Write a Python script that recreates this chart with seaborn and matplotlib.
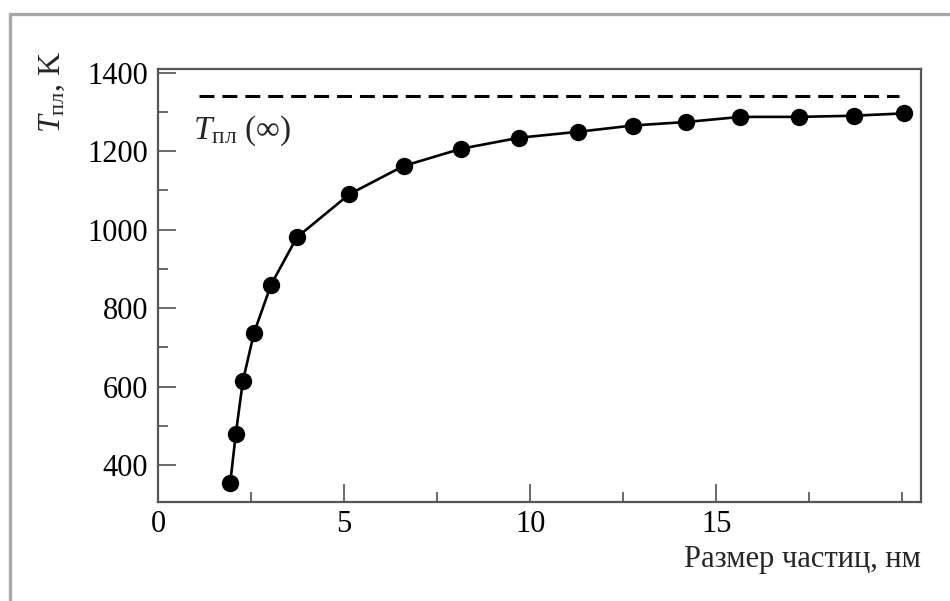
import matplotlib
matplotlib.use("Agg")
import matplotlib.pyplot as plt
from matplotlib.ticker import MultipleLocator
from matplotlib.lines import Line2D
import seaborn as sns
import pandas as pd

# --- data ---
size_nm = [1.94, 2.09, 2.28, 2.58, 3.04, 3.73, 5.14, 6.60, 8.15, 9.71,
           11.28, 12.75, 14.19, 15.65, 17.22, 18.69, 20.05]
t_melt = [354, 479, 614, 737, 860, 980, 1090, 1162, 1206, 1234,
          1249, 1265, 1274, 1287, 1287, 1290, 1296]
t_inf = 1340
t_inf_x = [1.1, 19.9]
x_ticks = [0, 5, 10, 15]
y_ticks = [400, 600, 800, 1000, 1200, 1400]

df = pd.DataFrame({"size": size_nm, "T": t_melt})
df_inf = pd.DataFrame({"size": t_inf_x, "T": [t_inf, t_inf]})

sns.set_theme(style="ticks")
plt.rcParams["font.family"] = ["Liberation Serif", "DejaVu Serif"]
plt.rcParams["mathtext.fontset"] = "custom"
plt.rcParams["mathtext.rm"] = "Liberation Serif"
plt.rcParams["mathtext.it"] = "Liberation Serif:italic"

fig = plt.figure(figsize=(9.5, 6.01), dpi=100)
fig.patch.set_facecolor("white")
ax = fig.add_axes([158/950, 1-502/601, (921-158)/950, (502-69)/601])

sns.lineplot(data=df, x="size", y="T", ax=ax, color="black", linewidth=1.9,
             marker="o", markersize=12.5, markeredgewidth=0, sort=True)
sns.lineplot(data=df_inf, x="size", y="T", ax=ax, color="black", linewidth=2.2,
             dashes=False, linestyle=(0, (4.9, 2.6)))

ax.set_xlim(0, 20.5)
ax.set_ylim(306, 1409)
ax.set_xticks(x_ticks)
ax.set_yticks(y_ticks)
ax.xaxis.set_minor_locator(MultipleLocator(2.5))
ax.yaxis.set_minor_locator(MultipleLocator(100))
ax.tick_params(axis="both", which="major", direction="in", length=13, width=1.2,
               color="#505050", labelsize=22, labelcolor="black")
ax.tick_params(axis="both", which="minor", direction="in", length=7, width=1.2,
               color="#505050")
ax.tick_params(axis="y", which="major", pad=7)
ax.tick_params(axis="x", which="major", pad=6)
ax.set_xlabel("")
ax.set_ylabel("")
for s in ax.spines.values():
    s.set_visible(True)
    s.set_color("#555555")
    s.set_linewidth(1.6)

ax.text(0.046, 0.857, r"$T_{\mathrm{пл}}$ (∞)", transform=ax.transAxes,
        fontsize=24, ha="left", va="center")

fig.text(921/950, 1-560/601, "Размер частиц, нм", ha="right", va="center",
         fontsize=22)
fig.text(52/950, 1-92/601, r"$T_{\mathrm{пл}}$, K", ha="center", va="center",
         rotation=90, fontsize=23)

# outer frame (left and top edges of the scanned figure border)
fig.add_artist(Line2D([10/950, 10/950], [0, 1-14/601], transform=fig.transFigure,
                      color="#a8a8a8", linewidth=2.4))
fig.add_artist(Line2D([10/950, 1], [1-14/601, 1-14/601], transform=fig.transFigure,
                      color="#a8a8a8", linewidth=2.4))

fig.savefig("out.png", dpi=100)
